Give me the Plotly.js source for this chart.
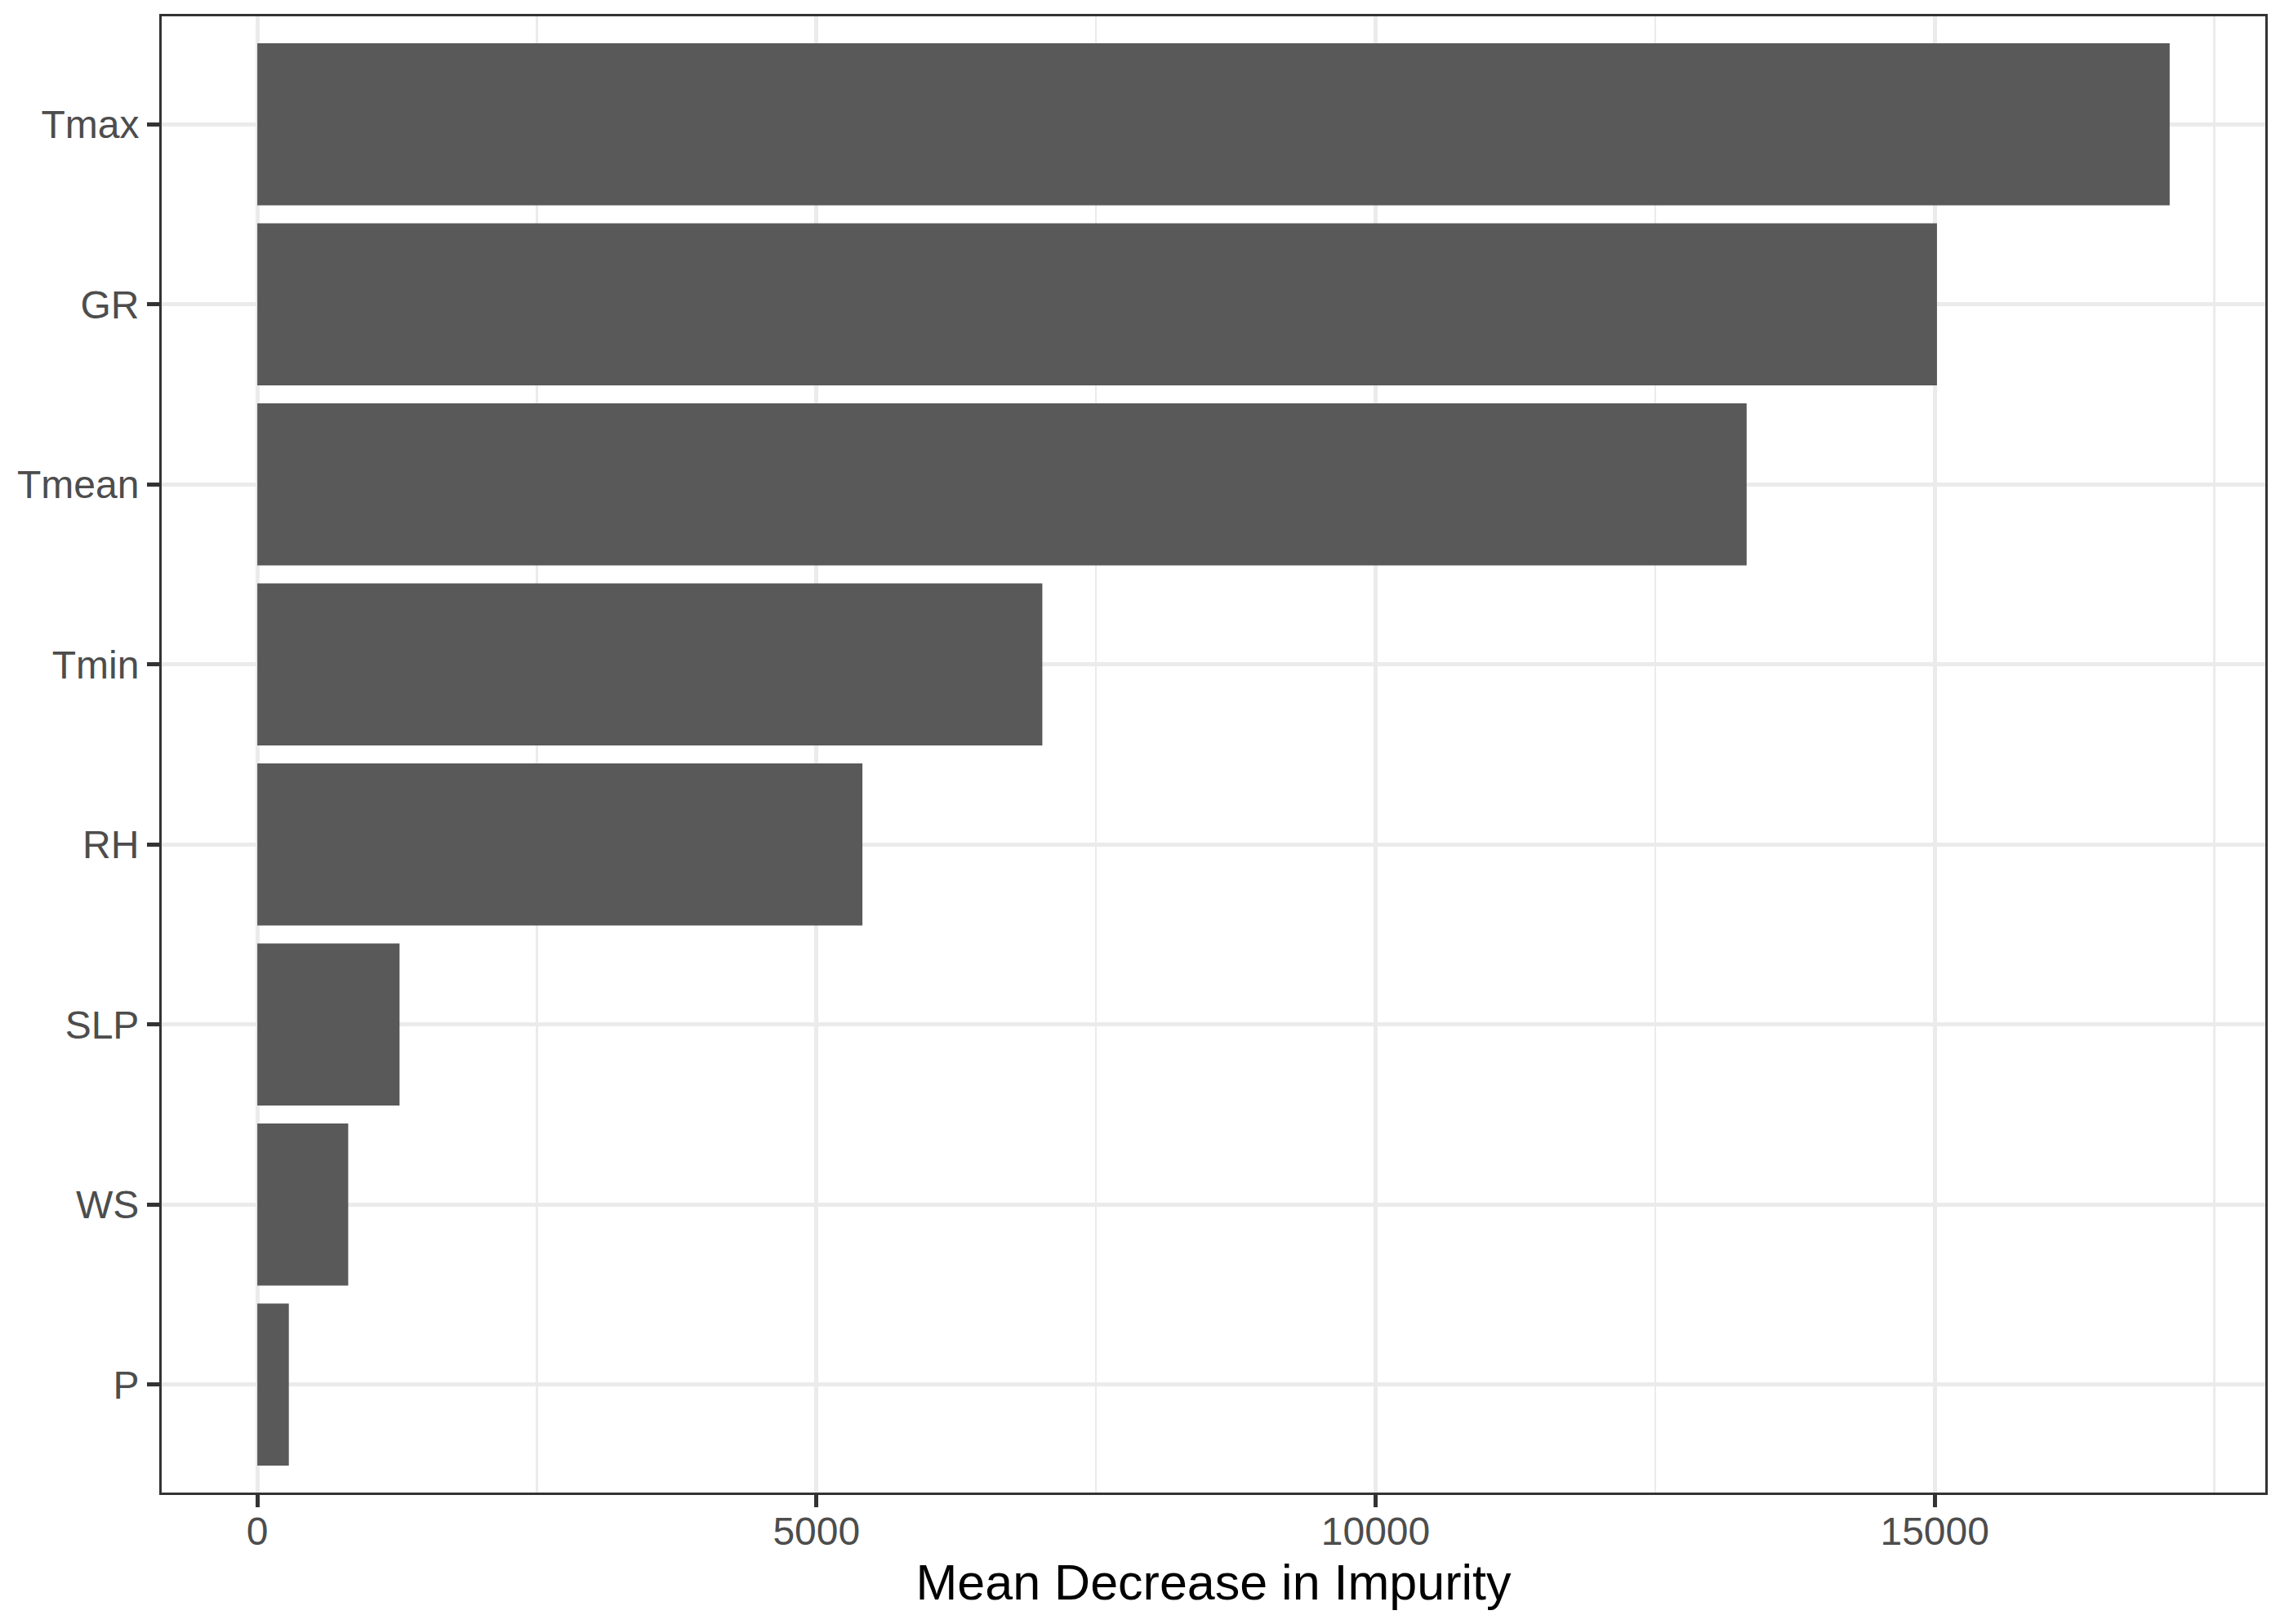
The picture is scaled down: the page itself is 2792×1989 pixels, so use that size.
<!DOCTYPE html>
<html>
<head>
<meta charset="utf-8">
<script src="https://cdn.plot.ly/plotly-3.0.1.min.js"></script>
<style>
  html, body { margin: 0; padding: 0; background: #ffffff; }
  #graph { width: 2792px; height: 1989px; }
</style>
</head>
<body>
<div id="graph"></div>
<script>
// variables, listed from top to bottom of the chart
var variables = ['Tmax', 'GR', 'Tmean', 'Tmin', 'RH', 'SLP', 'WS', 'P'];

// mean decrease in impurity for each variable
var importance = [17101, 15020, 13318, 7020, 5411, 1272, 813, 282];

// x axis ticks
var xTicks = [0, 5000, 10000, 15000];
var xTickText = ['0', '5000', '10000', '15000'];

var axisFont = {family: 'Liberation Sans, Arial, sans-serif', size: 48, color: '#4D4D4D'};

// ggplot style expansion: 5% either side of the data range
var maxVal = Math.max.apply(null, importance);
var pad = maxVal * 0.05;

var trace = {
    type: 'bar',
    orientation: 'h',
    x: importance,
    y: variables,
    width: 0.9,
    marker: {color: '#595959', line: {width: 0}},
    hoverinfo: 'x+y'
};

var layout = {
    width: 2792,
    height: 1989,
    margin: {l: 198, r: 18, t: 20, b: 161},
    paper_bgcolor: '#ffffff',
    plot_bgcolor: '#ffffff',
    showlegend: false,
    font: {family: 'Liberation Sans, Arial, sans-serif'},
    xaxis: {
        range: [-pad, maxVal + pad],
        tickmode: 'array',
        tickvals: xTicks,
        ticktext: xTickText,
        tickfont: axisFont,
        ticks: 'outside',
        ticklen: 15,
        tickwidth: 5,
        tickcolor: '#333333',
        ticklabelstandoff: -12,
        showgrid: true,
        gridcolor: '#EBEBEB',
        gridwidth: 5,
        minor: {dtick: 2500, tick0: 0, showgrid: true, gridcolor: '#EBEBEB', gridwidth: 2.5, ticks: ''},
        zeroline: false,
        showline: true,
        mirror: true,
        linecolor: '#333333',
        linewidth: 3,
        title: {
            text: 'Mean Decrease in Impurity',
            font: {family: 'Liberation Sans, Arial, sans-serif', size: 61, color: '#000000'},
            standoff: 16
        },
        automargin: false
    },
    yaxis: {
        type: 'category',
        categoryorder: 'array',
        categoryarray: variables,
        range: [variables.length - 0.4, -0.6],
        tickfont: axisFont,
        ticks: 'outside',
        ticklen: 15,
        tickwidth: 5,
        tickcolor: '#333333',
        showgrid: true,
        gridcolor: '#EBEBEB',
        gridwidth: 5,
        zeroline: false,
        showline: true,
        mirror: true,
        linecolor: '#333333',
        linewidth: 3,
        automargin: false
    }
};

Plotly.newPlot('graph', [trace], layout, {displayModeBar: false, staticPlot: true});
</script>
</body>
</html>
